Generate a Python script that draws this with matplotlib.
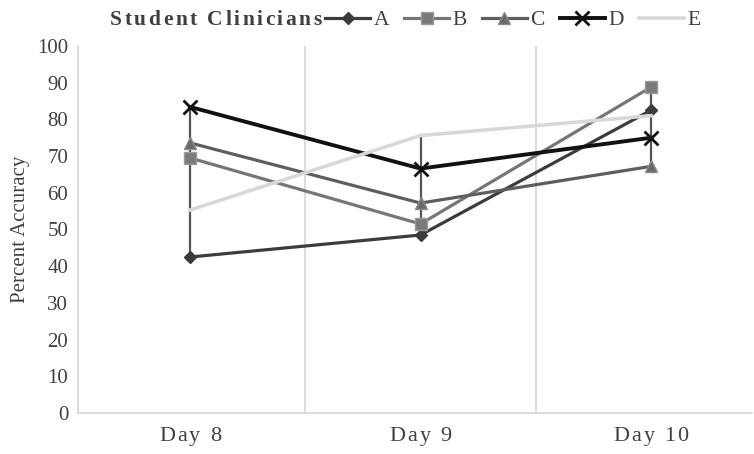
import matplotlib.pyplot as plt
from matplotlib.lines import Line2D
from matplotlib.font_manager import FontProperties, findfont
from matplotlib.ft2font import FT2Font
from matplotlib.transforms import offset_copy

plt.rcParams['font.family'] = ['Liberation Serif', 'DejaVu Serif']

# data
days = ['Day 8', 'Day 9', 'Day 10']
clin_a = [42.5, 48.5, 82.5]
clin_b = [69.5, 51.5, 88.8]
clin_c = [73.6, 57.2, 67.2]
clin_d = [83.4, 66.6, 75.0]
clin_e = [55.3, 75.6, 81.0]
names = ['A', 'B', 'C', 'D', 'E']

series = [clin_a, clin_b, clin_c, clin_d, clin_e]
styles = [
    dict(color='#3c3c3c', lw=2.3, marker='D', ms=6, mfc='#3c3c3c', mec='#3c3c3c'),
    dict(color='#767676', lw=2.3, marker='s', ms=8, mfc='#7a7a7a', mec='#9a9a9a'),
    dict(color='#5e5e5e', lw=2.3, marker='^', ms=8, mfc='#6a6a6a', mec='#8a8a8a'),
    dict(color='#111111', lw=2.8, marker='x', ms=10, mew=2, mec='#111111'),
    dict(color='#d8d8d8', lw=2.6, marker=None),
]

DPI = 100
fig = plt.figure(figsize=(7.54, 4.54), dpi=DPI)
ax = fig.add_axes([0.1034, 0.0903, 0.8946, 0.8084])


def spaced_text(x, y, s, transform, size, spacing, weight='normal', ha='center'):
    # draw text with extra letter spacing (pixels), one glyph at a time
    fp = FontProperties(family='Liberation Serif', weight=weight)
    font = FT2Font(findfont(fp))
    font.set_size(size, DPI)
    adv = []
    for c in s:
        g = font.load_char(ord(c))
        adv.append(g.linearHoriAdvance / 65536)
    total = sum(adv) + spacing * (len(s) - 1)
    pos = -total / 2 if ha == 'center' else 0
    for c, a in zip(s, adv):
        tr = offset_copy(transform, fig=fig, x=pos, y=0, units='dots')
        fig.text(x, y, c, transform=tr, fontproperties=fp, fontsize=size,
                 color='#404040', ha='left', va='center')
        pos += a + spacing


x = list(range(len(days)))

# high-low lines
lows = [min(v) for v in zip(*series)]
highs = [max(v) for v in zip(*series)]
ax.vlines(x, lows, highs, color='#555555', lw=1.6, zorder=1)

for vals, st in zip(series, styles):
    ax.plot(x, vals, zorder=2, **st)

# category separators
for b in [0.5, 1.5]:
    ax.axvline(b, color='#d9d9d9', lw=1.3, zorder=0)

ax.set_xlim(-0.486, 2.44)
ax.set_ylim(0, 100)
ax.set_yticks(range(0, 101, 10))
ax.set_xticks(x)
ax.set_xticklabels([])
ax.tick_params(axis='y', length=0, labelsize=15, colors='#404040', pad=7)
ax.tick_params(axis='x', length=0)

# letter-spaced category labels
xt = ax.get_xaxis_transform()
for xi, d in zip(x, days):
    spaced_text(xi, -0.065, d, xt, 16, 2)

for s in ['top', 'right']:
    ax.spines[s].set_visible(False)
for s in ['left', 'bottom']:
    ax.spines[s].set_color('#d9d9d9')
    ax.spines[s].set_linewidth(1.3)

ax.set_ylabel('Percent Accuracy', fontsize=15, color='#404040', labelpad=5)

# legend with title to the left
spaced_text(110 / 754, 0.955, 'Student Clinicians', fig.transFigure, 15.5, 2.5,
            weight='bold', ha='left')
handles = [Line2D([], [], **st) for st in styles]
fig.legend(handles, names, loc='center left', bbox_to_anchor=(0.431, 0.955),
           ncol=5, frameon=False, fontsize=15.5, handlelength=2.1,
           handletextpad=0.15, columnspacing=0.7, labelcolor='#404040',
           borderaxespad=0, borderpad=0)

fig.savefig('out.png', dpi=DPI)
